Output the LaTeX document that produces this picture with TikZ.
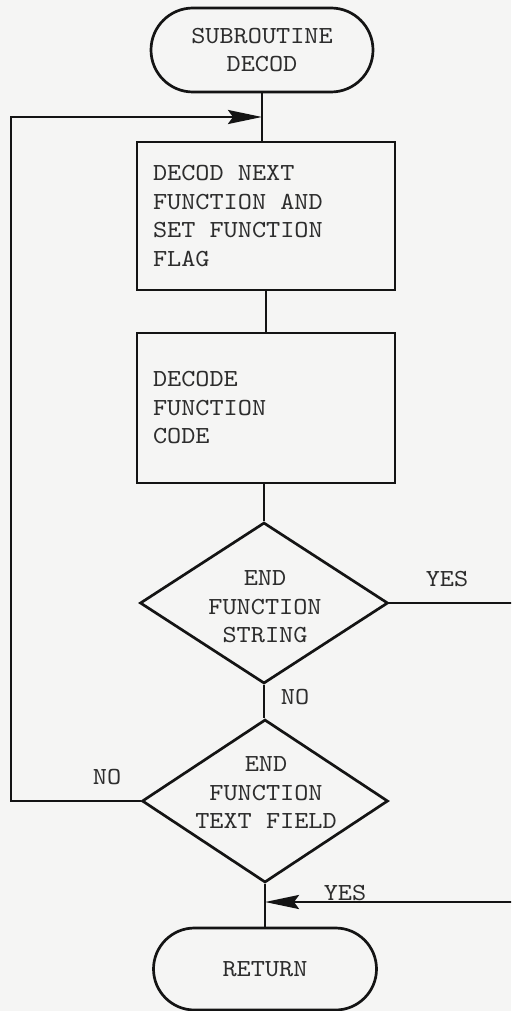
\documentclass[tikz,border=0pt]{standalone}
\usepackage{fontspec}
\setmonofont{lmmono10-regular.otf}[FakeStretch=1.1]
\usetikzlibrary{shapes.geometric,shapes.misc,arrows.meta}
\definecolor{paper}{RGB}{245,245,244}
\definecolor{ink}{RGB}{20,20,20}
\definecolor{textink}{RGB}{45,45,45}
\newcommand{\flowfont}{\ttfamily\fontsize{24.5}{28.5}\selectfont\fontdimen2\font=14.15pt\fontdimen3\font=0pt\fontdimen4\font=0pt\relax}
\begin{document}
\begin{tikzpicture}[x=1pt,y=1pt,
  line width=2.7pt, draw=ink,
  txt/.style={font=\flowfont, text=textink},
  term/.style={draw, rounded rectangle, minimum width=222pt, minimum height=84pt, inner sep=0pt, txt, align=center},
  proc/.style={draw, rectangle, minimum width=258pt, minimum height=148pt, txt, align=flush left, text width=226pt, inner xsep=16pt, execute at begin node={\spaceskip=14.15pt\xspaceskip=14.15pt\relax}},
  dec/.style={draw, diamond, inner sep=0pt},
  lab/.style={txt, inner sep=0pt},
  arr/.style={-{Stealth[length=34pt,width=14pt,inset=5pt]}}
]
\useasboundingbox (0,0) rectangle (511,-1011);
\fill[paper] (0,0) rectangle (511,-1011);
\clip (0,0) rectangle (511,-1011);

\node[term] (start) at (262,-50) {SUBROUTINE\\DECOD};
\node[proc] (p1) at (266,-216) {DECOD NEXT\\FUNCTION AND\\SET FUNCTION\\FLAG};
\node[proc, minimum height=150pt] (p2) at (266,-408) {DECODE\\FUNCTION\\CODE};
\node[dec, minimum width=248pt, minimum height=161pt] (d1) at (264,-603) {};
\node[txt, align=center] (t1) at (265,-607) {END\\FUNCTION\\STRING};
\node[dec, minimum width=246pt, minimum height=163pt] (d2) at (265,-801) {};
\node[txt, align=center] (t2) at (266,-793) {END\\FUNCTION\\TEXT FIELD};
\node[term, minimum width=223pt, minimum height=82pt] (ret) at (265,-969) {RETURN};

\node[lab] (yes1) at (447,-579) {YES};
\node[lab] (no1) at (295,-697) {NO};
\node[lab] (no2) at (107,-777) {NO};
\node[lab] (yes2) at (345,-893) {YES};

\coordinate (j1) at (262,-117);
\coordinate (lc) at (11,-117);
\coordinate (rc) at (520,-603);
\coordinate (j2) at (265,-902);

\draw (start.south) -- (start.south |- p1.north);
\draw (p1.south) -- (p2.north);
\draw (p2.south -| d1.north) -- (d1.north);
\draw (d1.south) -- (d1.south |- d2.north);
\draw (d2.south) -- (d2.south |- ret.north);
\draw[arr] (d2.west) -| (lc) -- (j1);
\draw[arr] (d1.east) -- (rc) |- (j2);
\end{tikzpicture}
\end{document}
